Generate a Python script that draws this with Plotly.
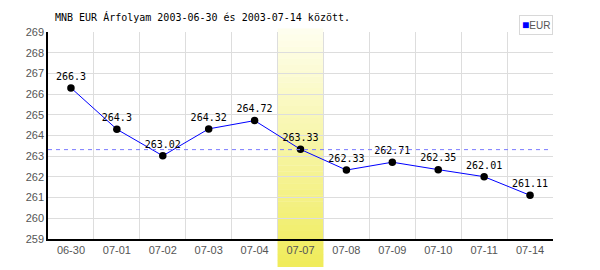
import numpy as np
import plotly.graph_objects as go

categories = ["06-30", "07-01", "07-02", "07-03", "07-04", "07-07",
              "07-08", "07-09", "07-10", "07-11", "07-14"]
eur_values = [266.3, 264.3, 263.02, 264.32, 264.72, 263.33,
              262.33, 262.71, 262.35, 262.01, 261.11]
value_labels = ["266.3", "264.3", "263.02", "264.32", "264.72", "263.33",
                "262.33", "262.71", "262.35", "262.01", "261.11"]
highlight_category = "07-07"
title_text = "MNB EUR Árfolyam 2003-06-30 és 2003-07-14 között."
series_name = "EUR"

mean_val = float(np.mean(eur_values))

fig = go.Figure()
fig.add_trace(go.Scatter(
    x=categories, y=eur_values, mode="lines+markers+text",
    text=value_labels, textposition="top center",
    textfont=dict(family="DejaVu Sans Mono", size=10, color="black"),
    line=dict(color="#0000ff", width=1),
    marker=dict(color="black", size=7.5),
    cliponaxis=False, showlegend=False,
))

# highlighted column with vertical gradient (stacked strips)
hi = categories.index(highlight_category)
top_p = (239 - 29) / 207
bot_p = (239 - 267) / 207
n = 40
c_top = np.array([0xff, 0xff, 0xf0])
c_bot = np.array([0xf0, 0xec, 0x5a])
shapes = []
for i in range(n):
    t = (i + 0.5) / n
    c = (c_top * (1 - t) + c_bot * t).astype(int)
    y1 = top_p + (bot_p - top_p) * i / n
    y0 = top_p + (bot_p - top_p) * (i + 1) / n
    shapes.append(dict(type="rect", xref="x", yref="paper",
                       x0=hi - 0.5, x1=hi + 0.5, y0=y0, y1=y1 + 0.002,
                       fillcolor="rgb(%d,%d,%d)" % tuple(c),
                       line=dict(width=0), layer="between"))
shapes.append(dict(type="line", xref="paper", yref="y", x0=0, x1=0.992,
                   y0=mean_val, y1=mean_val,
                   line=dict(color="#7b7bff", width=1, dash="4px,4px"),
                   layer="above"))
fig.update_layout(shapes=shapes)

fig.add_annotation(xref="paper", yref="paper", x=(53 - 48) / 505,
                   y=(239 - 17) / 207, xanchor="left", yanchor="middle",
                   text=title_text, showarrow=False,
                   font=dict(family="DejaVu Sans Mono", size=10, color="black"))
fig.add_annotation(xref="paper", yref="paper", x=1.0, y=(239 - 15) / 207,
                   xanchor="right", yanchor="top", showarrow=False,
                   text="<span style='color:#0000ff;font-size:12px'>■</span>" + series_name,
                   font=dict(family="Liberation Sans", size=10, color="#555555"),
                   bordercolor="#d8d8d8", borderwidth=1, borderpad=2,
                   bgcolor="white")

fig.update_layout(
    width=600, height=270,
    margin=dict(l=48, r=47, t=32, b=31),
    plot_bgcolor="white", paper_bgcolor="white",
    xaxis=dict(type="category", tickson="boundaries", showgrid=True,
               gridcolor="#dddddd", gridwidth=1, showline=True,
               linecolor="black", linewidth=1.5, ticks="", fixedrange=True,
               tickfont=dict(family="Liberation Sans", size=11, color="#555555"),
               range=[-0.5, len(categories) - 0.5], zeroline=False),
    yaxis=dict(range=[259, 269], dtick=1, showgrid=True, gridcolor="#dddddd",
               gridwidth=1, showline=True, linecolor="black", linewidth=1.5,
               ticks="", zeroline=False,
               tickfont=dict(family="Liberation Sans", size=11, color="#555555")),
)

fig.write_html("out.html")
